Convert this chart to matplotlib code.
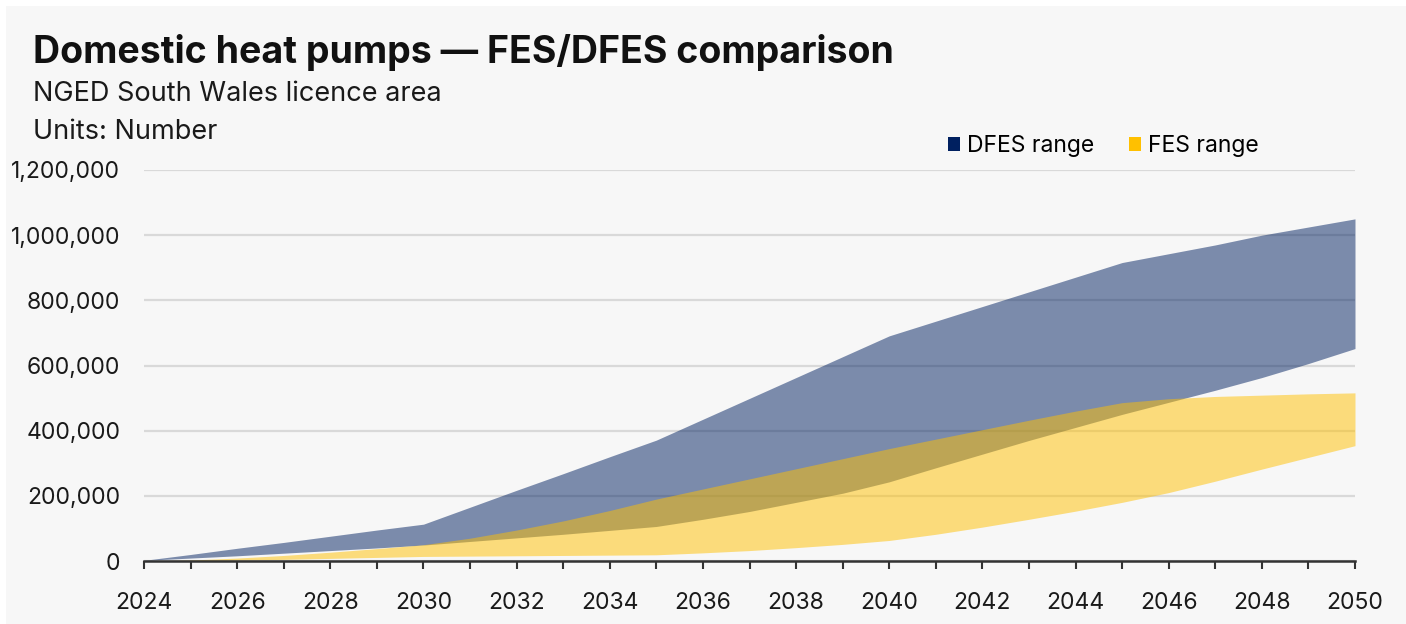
"""Domestic heat pumps: FES/DFES range comparison, NGED South Wales."""

import matplotlib

matplotlib.use("Agg")
import matplotlib.pyplot as plt
from matplotlib.patches import Rectangle
from matplotlib.ticker import FuncFormatter, MultipleLocator

plt.rcParams["font.family"] = ["Inter", "DejaVu Sans"]

YEARS = list(range(2024, 2051))

DFES_LOW = [2000, 9000, 16000, 24000, 32000, 40000, 49000,
            60000, 71000, 82000, 94000, 106000,
            128000, 152000, 180000, 208000, 243000,
            286000, 328000, 370000, 410000, 450000,
            487000, 524000, 563000, 606000, 652000]
DFES_HIGH = [2000, 20000, 39000, 57000, 76000, 95000, 113000,
             165000, 217000, 268000, 320000, 371000,
             435000, 499000, 563000, 627000, 691000,
             736000, 781000, 826000, 871000, 916000,
             943000, 970000, 1000000, 1025000, 1050000]
FES_LOW = [0, 1000, 3000, 5000, 8000, 11000, 14000,
           15000, 16000, 17000, 18000, 19000,
           25000, 32000, 41000, 51000, 63000,
           82000, 104000, 128000, 153000, 180000,
           210000, 245000, 282000, 318000, 354000]
FES_HIGH = [0, 3000, 9000, 17000, 27000, 38000, 50000,
            70000, 95000, 123000, 155000, 190000,
            221000, 252000, 283000, 314000, 345000,
            374000, 403000, 432000, 460000, 486000,
            498000, 505000, 509000, 513000, 516000]

NAVY = "#002060"
GOLD = "#FFC000"
PANEL = "#f7f7f7"


def main() -> None:
    fig = plt.figure(figsize=(14.06, 6.24), dpi=100, facecolor="white")
    fig.patches.append(
        Rectangle((6 / 1406, 0), 1, 1 - 6 / 624, transform=fig.transFigure,
                  facecolor=PANEL, edgecolor="none", zorder=-10)
    )

    ax = fig.add_axes([144 / 1406, 1 - 561 / 624, (1355 - 144) / 1406, (561 - 170) / 624])
    ax.set_facecolor(PANEL)

    ax.fill_between(YEARS, DFES_LOW, DFES_HIGH, color=NAVY, alpha=0.5, lw=0, zorder=2)
    ax.fill_between(YEARS, FES_LOW, FES_HIGH, color=GOLD, alpha=0.5, lw=0, zorder=3)

    ax.set_xlim(2024, 2050)
    ax.set_ylim(0, 1200000)
    ax.yaxis.set_major_locator(MultipleLocator(200000))
    ax.yaxis.set_major_formatter(FuncFormatter(lambda v, _: f"{v:,.0f}"))
    ax.xaxis.set_major_locator(MultipleLocator(2))
    ax.xaxis.set_minor_locator(MultipleLocator(1))
    ax.grid(axis="y", color="#d9d9d9", lw=1.6, zorder=1)
    ax.set_axisbelow(True)

    for side in ("left", "right", "top"):
        ax.spines[side].set_visible(False)
    ax.spines["bottom"].set_color("#333333")
    ax.spines["bottom"].set_linewidth(1.8)
    ax.spines["bottom"].set_zorder(5)

    ax.tick_params(axis="y", length=0, pad=17, labelsize=16.5, labelcolor="#1a1a1a")
    ax.tick_params(axis="x", which="both", direction="out", length=6, width=1.5,
                   color="#333333", labelsize=16.5, labelcolor="#1a1a1a", pad=16)

    fig.text(33 / 1406, 1 - 63 / 624, "Domestic heat pumps \u2014 FES/DFES comparison",
             fontsize=27, fontweight="bold", color="#111111")
    fig.text(33 / 1406, 1 - 101 / 624, "NGED South Wales licence area",
             fontsize=19.5, color="#1a1a1a")
    fig.text(33 / 1406, 1 - 139 / 624, "Units: Number", fontsize=19.5, color="#1a1a1a")

    handles = [
        Rectangle((0, 0), 1, 1, facecolor=NAVY, edgecolor="none"),
        Rectangle((0, 0), 1, 1, facecolor=GOLD, edgecolor="none"),
    ]
    fig.legend(handles, ["DFES range", "FES range"], loc="center left",
               bbox_to_anchor=(927 / 1406, 1 - 146 / 624), ncol=2, frameon=False,
               fontsize=16.5, handlelength=0.55, handleheight=0.55, handletextpad=0.3,
               columnspacing=1.5)

    fig.savefig("out.png", dpi=100, facecolor=fig.get_facecolor())


if __name__ == "__main__":
    main()
